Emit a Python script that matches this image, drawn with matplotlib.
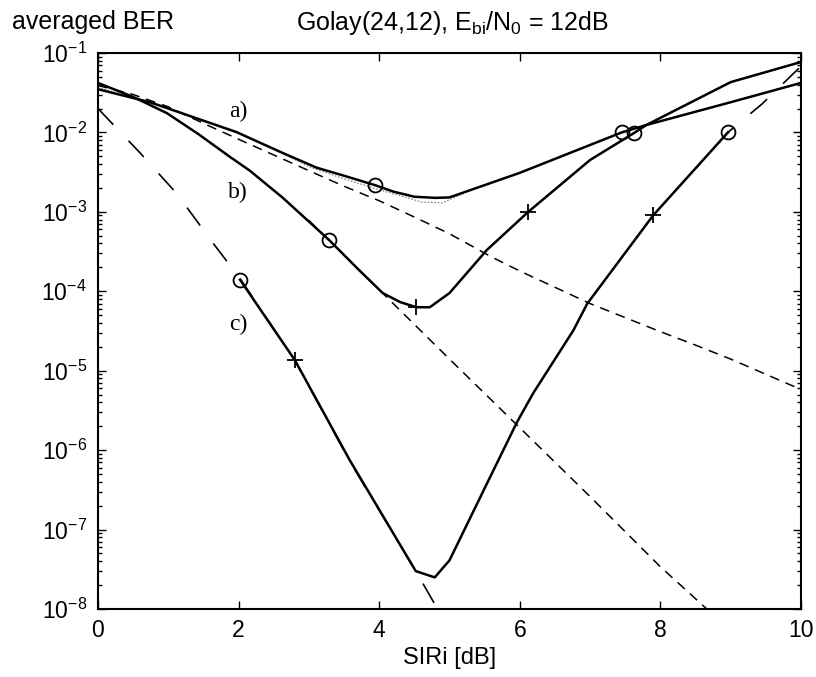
import matplotlib
matplotlib.use("Agg")
import matplotlib.pyplot as plt
import numpy as np

plt.rcParams['font.family'] = ['Liberation Sans', 'DejaVu Sans']
plt.rcParams['mathtext.fontset'] = 'custom'
plt.rcParams['mathtext.rm'] = 'Liberation Sans'
plt.rcParams['mathtext.it'] = 'Liberation Sans'
plt.rcParams['mathtext.sf'] = 'Liberation Sans'
plt.rcParams['mathtext.default'] = 'regular'
plt.rcParams['lines.scale_dashes'] = False

# curve a) : solid
a_x = [0, 0.74, 1.97, 2.63, 3.11, 3.5, 3.94, 4.2, 4.5, 4.8, 5.0, 6.0, 7.45, 7.8, 9.0, 10.0]
a_y = [0.035, 0.024, 0.0101, 5.5e-3, 3.6e-3, 2.85e-3, 2.17e-3, 1.8e-3, 1.55e-3,
       1.5e-3, 1.52e-3, 3.1e-3, 0.010, 0.0124, 0.024, 0.042]
a_circ = [6, 12]
a_plus = []

# curve b) : solid
b_x = [0, 0.5, 0.98, 1.43, 1.88, 2.16, 2.63, 2.87, 3.29, 3.7, 4.05, 4.3, 4.53,
       4.72, 5.0, 5.53, 6.12, 7.0, 7.63, 7.8, 9.0, 10.0]
b_y = [0.042, 0.028, 0.0175, 9.5e-3, 4.9e-3, 3.3e-3, 1.5e-3, 9.6e-4, 4.4e-4,
       1.9e-4, 9.5e-5, 7.3e-5, 6.3e-5, 6.3e-5, 9.5e-5, 3.3e-4, 1.0e-3, 4.5e-3,
       9.9e-3, 0.0124, 0.043, 0.077]
b_circ = [8, 18]
b_plus = [12, 16]

# curve c) : solid
c_x = [2.02, 2.8, 3.58, 4.52, 4.79, 5.0, 5.34, 5.96, 6.19, 6.76, 6.96, 7.9, 8.96]
c_y = [1.4e-4, 1.36e-5, 7.5e-7, 3.0e-8, 2.5e-8, 4.1e-8, 1.7e-7, 2.25e-6,
       5.2e-6, 3.2e-5, 7.0e-5, 9.1e-4, 0.010]
c_circ = [0, 12]
c_plus = [1, 11]

# thin dotted curve close to a)
d_x = [0, 1, 2, 2.5, 3, 3.5, 4, 4.3, 4.6, 4.9, 5.2]
d_y = [0.037, 0.020, 9.7e-3, 6.2e-3, 3.7e-3, 2.6e-3, 1.9e-3, 1.6e-3, 1.33e-3,
       1.3e-3, 1.7e-3]

# dashed asymptote of a)
da_x = [0, 0.5, 1, 1.5, 2, 2.5, 3, 3.5, 4, 4.5, 5, 5.6, 6, 7, 8, 8.5, 9, 10]
da_y = [0.039, 0.030, 0.021, 0.013, 8.2e-3, 5.2e-3, 3.3e-3, 2.1e-3, 1.38e-3,
        8.6e-4, 5.3e-4, 2.7e-4, 1.8e-4, 7.0e-5, 3.1e-5, 2.1e-5, 1.4e-5, 5.8e-6]

# dashed asymptote of b)
db_x = [3.0, 4.2, 5.0, 5.96, 7.0, 8.0, 8.66]
db_y = [7.8e-4, 7.0e-5, 1.4e-5, 2.07e-6, 2.6e-7, 3.4e-8, 1.0e-8]

# long-dashed asymptotes of c)
dc1_x = [0, 0.6, 1.12, 1.64, 2.02, 2.8, 3.58, 4.54, 4.83]
dc1_y = [0.020, 5.5e-3, 1.7e-3, 4.0e-4, 1.45e-4, 1.35e-5, 7.3e-7, 2.8e-8, 1.0e-8]
dc2_x = [8.5, 8.96, 9.45, 9.9, 10.0]
dc2_y = [3.5e-3, 0.010, 0.023, 0.056, 0.068]

labels = ['a)', 'b)', 'c)']
label_x = [1.99, 1.99, 2.0]
label_y = [0.0186, 1.73e-3, 3.77e-5]

x_ticks = [0, 2, 4, 6, 8, 10]
y_exps = [-8, -7, -6, -5, -4, -3, -2, -1]

fig = plt.figure(figsize=(8.16, 6.77), dpi=100)
ax = fig.add_axes([98 / 816, 1 - 609 / 677, 703 / 816, 556 / 677])
ax.set_yscale('log')

ax.plot(d_x, d_y, color='#888888', lw=0.9, ls=(0, (1.2, 1.2)), zorder=2)
ax.plot(da_x, da_y, color='black', lw=1.1, ls=(0, (7, 5)), zorder=2)
ax.plot(db_x, db_y, color='black', lw=1.1, ls=(0, (7, 5)), zorder=2)
ax.plot(dc1_x, dc1_y, color='black', lw=1.2, ls=(0, (16, 16)), zorder=2)
ax.plot(dc2_x, dc2_y, color='black', lw=1.2, ls=(8, (16, 16)), zorder=2)

for xs, ys, ci, pl in [(a_x, a_y, a_circ, a_plus), (b_x, b_y, b_circ, b_plus),
                       (c_x, c_y, c_circ, c_plus)]:
    ax.plot(xs, ys, color='black', lw=1.8, zorder=3)
    if ci:
        ax.plot(xs, ys, ls='none', marker='o', markevery=ci, ms=10,
                mfc='none', mec='black', mew=1.3, zorder=4)
    if pl:
        ax.plot(xs, ys, ls='none', marker='+', markevery=pl, ms=11,
                mec='black', mew=1.3, zorder=4)

for t, x, y in zip(labels, label_x, label_y):
    ax.text(x, y, t, family='Liberation Serif', fontsize=17,
            ha='center', va='center')

ax.set_xlim(0, 10)
ax.set_ylim(1e-8, 1e-1)
ax.set_xticks(x_ticks)
ax.set_yticks([10.0 ** e for e in y_exps],
              [r'$10^{%d}$' % e for e in y_exps])
ax.yaxis.set_minor_locator(matplotlib.ticker.LogLocator(
    base=10, subs=np.arange(2, 10)))
ax.xaxis.set_minor_locator(matplotlib.ticker.NullLocator())
ax.yaxis.set_minor_formatter(matplotlib.ticker.NullFormatter())
ax.tick_params(which='both', direction='in', top=True, right=True,
               labelsize=16.5, width=1.0)
ax.tick_params(which='major', length=6, pad=7)
ax.tick_params(which='minor', length=3)
ax.tick_params(axis='y', pad=8)
for s in ax.spines.values():
    s.set_linewidth(1.5)

ax.set_xlabel('SIRi [dB]', fontsize=17, labelpad=4)
fig.text(12 / 816, 1 - 22 / 677, 'averaged BER', fontsize=18,
         ha='left', va='center')
fig.text(452 / 816, 1 - 23 / 677, r'Golay(24,12), E$_{\rm bi}$/N$_0$ = 12dB',
         fontsize=18, ha='center', va='center')

fig.savefig('out.png', dpi=100)
